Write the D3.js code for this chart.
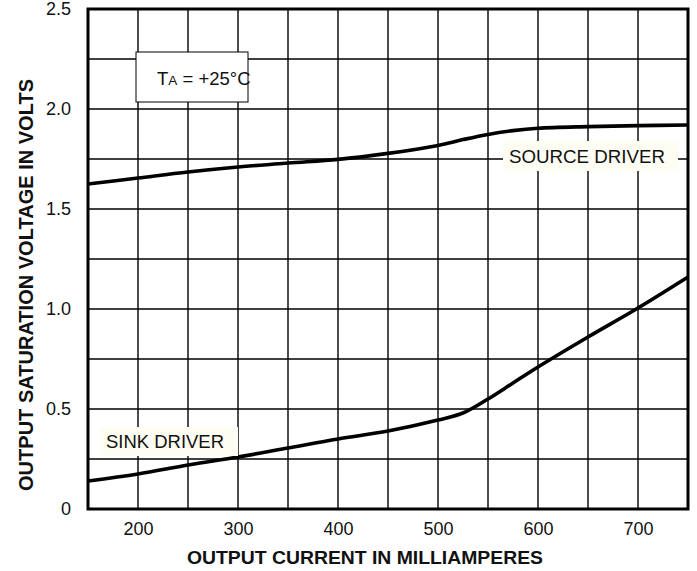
<!DOCTYPE html>
<html><head><meta charset="utf-8">
<script src="https://cdn.jsdelivr.net/npm/d3@7"></script>
<style>body{margin:0;background:#fff;} svg{display:block;font-family:"Liberation Sans",Arial,sans-serif;}</style>
</head><body>
<svg id="c" width="697" height="571"></svg>
<script>
const currentMA = [150,200,250,300,350,400,450,500,525,550,575,600,650,700,750];
const sourceV   = [1.625,1.655,1.685,1.71,1.73,1.748,1.778,1.818,1.847,1.873,1.892,1.904,1.912,1.917,1.92];
const sinkV     = [0.14,0.175,0.22,0.26,0.305,0.35,0.39,0.445,0.48,0.55,0.63,0.71,0.86,1.005,1.16];
const xTicks = [200,300,400,500,600,700];
const yTicks = [0,0.5,1.0,1.5,2.0,2.5];
const yTickLabels = ["0","0.5","1.0","1.5","2.0","2.5"];

const svg = d3.select("#c");
const L=88,T=9,R=688,B=509;
const x = d3.scaleLinear().domain([150,750]).range([L,R]);
const y = d3.scaleLinear().domain([0,2.5]).range([B,T]);

// grid
const g = svg.append("g");
g.selectAll("line.v").data(d3.range(200,750,50)).join("line")
 .attr("x1",d=>x(d)).attr("x2",d=>x(d)).attr("y1",T).attr("y2",B)
 .attr("stroke","#000").attr("stroke-width",1.4);
g.selectAll("line.h").data(d3.range(0.25,2.5,0.25)).join("line")
 .attr("y1",d=>y(d)).attr("y2",d=>y(d)).attr("x1",L).attr("x2",R)
 .attr("stroke","#000").attr("stroke-width",1.4);

// curves
const line = d3.line().x((d,i)=>x(currentMA[i])).y(d=>y(d)).curve(d3.curveCatmullRom.alpha(0.5));
svg.append("path").attr("d",line(sourceV)).attr("fill","none").attr("stroke","#000").attr("stroke-width",3.6);
svg.append("path").attr("d",line(sinkV)).attr("fill","none").attr("stroke","#000").attr("stroke-width",3.6);

// labels with backgrounds
svg.append("rect").attr("x",503).attr("y",141).attr("width",175).attr("height",30).attr("fill","#fdfdf3");
svg.append("text").attr("x",509).attr("y",163).attr("font-size",18).attr("textLength",156).attr("lengthAdjust","spacingAndGlyphs").attr("fill","#111").text("SOURCE DRIVER");
svg.append("rect").attr("x",100).attr("y",427).attr("width",138).attr("height",29).attr("fill","#fdfdf3");
svg.append("text").attr("x",106).attr("y",448).attr("font-size",18).attr("textLength",118).attr("lengthAdjust","spacingAndGlyphs").attr("fill","#111").text("SINK DRIVER");

// TA box
svg.append("rect").attr("x",136).attr("y",52).attr("width",112).attr("height",50).attr("fill","#fff").attr("stroke","#000").attr("stroke-width",1);
const ta = svg.append("text").attr("x",157).attr("y",85).attr("font-size",18.5).attr("fill","#111");
ta.append("tspan").text("T");
ta.append("tspan").attr("font-size",13.5).text("A");
ta.append("tspan").text(" = +25°C");

// frame
svg.append("rect").attr("x",L).attr("y",T).attr("width",R-L).attr("height",B-T).attr("fill","none").attr("stroke","#000").attr("stroke-width",3);

// axes tick labels
const xAxis = d3.axisBottom(x).tickValues(xTicks).tickSize(0).tickPadding(13);
const xa = svg.append("g").attr("transform",`translate(0,${B})`).call(xAxis);
xa.select(".domain").remove();
xa.selectAll("text").attr("font-size",18).attr("fill","#111").attr("font-family","Liberation Sans, Arial, sans-serif");

const yAxis = d3.axisLeft(y).tickValues(yTicks).tickFormat((d,i)=>yTickLabels[i]).tickSize(0).tickPadding(17);
const ya = svg.append("g").attr("transform",`translate(${L},0)`).call(yAxis);
ya.select(".domain").remove();
ya.selectAll("text").attr("font-size",18).attr("fill","#111").attr("font-family","Liberation Sans, Arial, sans-serif");

// titles
svg.append("text").attr("x",365).attr("y",564).attr("text-anchor","middle").attr("font-size",18.5).attr("font-weight","bold").attr("fill","#111")
 .attr("textLength",356).attr("lengthAdjust","spacingAndGlyphs").text("OUTPUT CURRENT IN MILLIAMPERES");
svg.append("text").attr("transform","translate(33,285) rotate(-90)").attr("text-anchor","middle").attr("font-size",19.5).attr("font-weight","bold").attr("fill","#111")
 .attr("textLength",412).attr("lengthAdjust","spacingAndGlyphs").text("OUTPUT SATURATION VOLTAGE IN VOLTS");
</script>
</body></html>
